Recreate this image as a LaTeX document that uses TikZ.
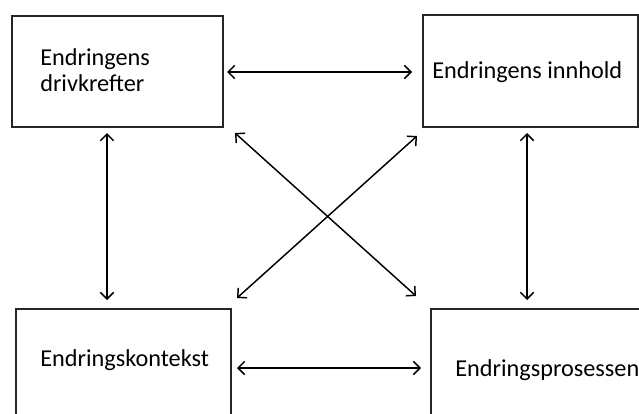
\documentclass[tikz,border=0pt]{standalone}
\usepackage{fontspec}
\setmainfont{Carlito}
\usetikzlibrary{arrows.meta}
\begin{document}
\begin{tikzpicture}[x=0.75pt,y=-0.75pt,
  box/.style={draw=black!85,line width=1.4pt,rectangle,inner sep=0pt,anchor=north west},
  lbl/.style={anchor=west,align=left,inner sep=0pt,font=\fontsize{18.2pt}{19pt}\selectfont},
  link/.style={line width=1.1pt,{Straight Barb[length=5pt,width=10pt]}-{Straight Barb[length=5pt,width=10pt]}}]
\useasboundingbox (0,0) rectangle (639,414);
\clip (0,0) rectangle (639,414);
% four boxes
\node[box,minimum width=211*0.75pt,minimum height=111*0.75pt] (drv) at (11,15) {};
\node[box,minimum width=215*0.75pt,minimum height=112*0.75pt] (inn) at (422,14) {};
\node[box,minimum width=215*0.75pt,minimum height=140*0.75pt] (ktx) at (15,308) {};
\node[box,minimum width=240*0.75pt,minimum height=140*0.75pt] (prs) at (430,308) {};
% labels
\node[lbl] (tdrv) at (40,70) {Endringens\\drivkrefter};
\node[lbl] (tinn) at (432,72) {Endringens innhold};
\node[lbl] (tktx) at (40,360) {Endringskontekst};
\node[lbl] (tprs) at (455,370) {Endringsprosessen};
% anchor points of the connectors
\coordinate (d1) at (227,72);  \coordinate (i1) at (412,72);
\coordinate (d2) at (107,133); \coordinate (k1) at (107,300);
\coordinate (i2) at (527,133); \coordinate (p1) at (527,300);
\coordinate (k2) at (237,368); \coordinate (p2) at (421,368);
\coordinate (d3) at (235,133); \coordinate (p3) at (416,296);
\coordinate (i3) at (417,136); \coordinate (k3) at (237,298);
\draw[link] (d1) -- (i1);
\draw[link] (d2) -- (k1);
\draw[link] (i2) -- (p1);
\draw[link] (k2) -- (p2);
\draw[link] (d3) -- (p3);
\draw[link] (i3) -- (k3);
\end{tikzpicture}
\end{document}
